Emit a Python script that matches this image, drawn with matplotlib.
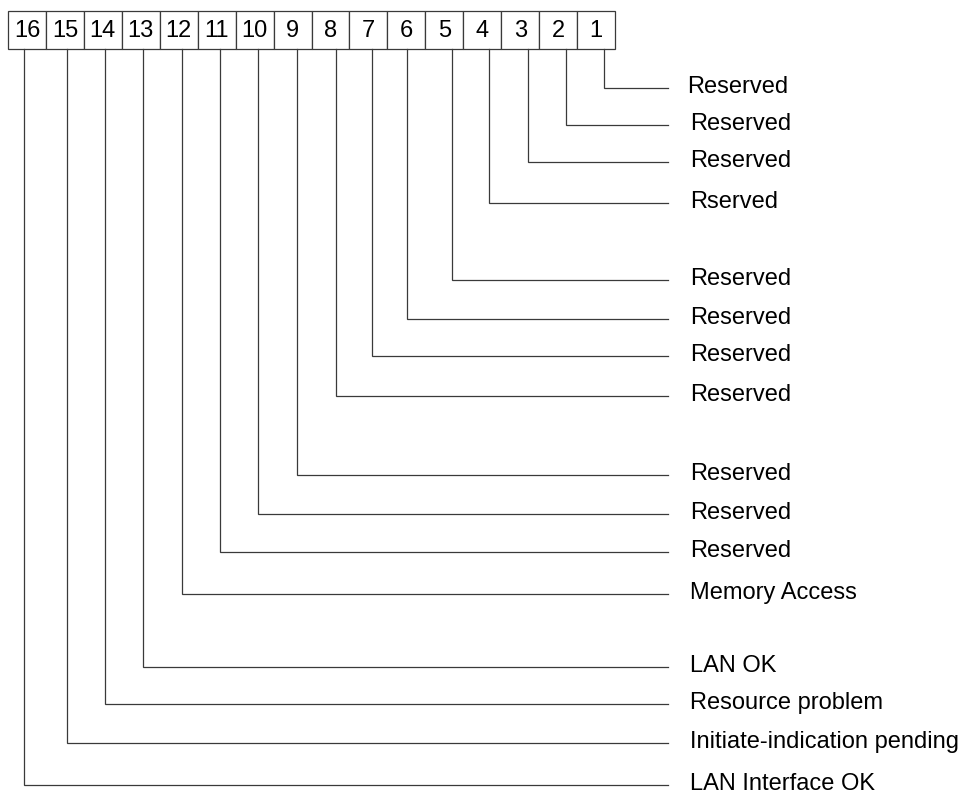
import matplotlib

matplotlib.use("Agg")
import matplotlib.pyplot as plt  # noqa: E402
from matplotlib.patches import Rectangle  # noqa: E402

# bit numbers, left to right in the register box
bits = [16, 15, 14, 13, 12, 11, 10, 9, 8, 7, 6, 5, 4, 3, 2, 1]

# description for each bit (bit 1 first)
labels = [
    "Reserved", "Reserved", "Reserved", "Rserved",
    "Reserved", "Reserved", "Reserved", "Reserved",
    "Reserved", "Reserved", "Reserved", "Memory Access",
    "LAN OK", "Resource problem", "Initiate-indication pending", "LAN Interface OK",
]

# layout (pixels): row y of each leader line, bit 1 first
row_y = [88, 125, 162, 203, 280, 319, 356, 396,
         475, 514, 552, 594, 667, 704, 743, 785]
# x of the stem under each bit, bit 1 first
stem_x = [604, 566, 528, 489, 452, 407, 372, 336,
          297, 258, 220, 182, 143, 105, 67, 24]

W, H = 963, 794
BOX_LEFT, BOX_RIGHT, BOX_TOP, BOX_BOT = 8, 615, 11, 49
LINE_END = 668
LABEL_X = 690
LINE_COLOR = "#3a3a3a"

plt.rcParams["font.family"] = ["Liberation Sans", "DejaVu Sans"]

fig = plt.figure(figsize=(W / 100, H / 100), dpi=100)
ax = fig.add_axes([0, 0, 1, 1])
ax.set_xlim(0, W)
ax.set_ylim(H, 0)
ax.axis("off")

# register boxes
box_w = (BOX_RIGHT - BOX_LEFT) / len(bits)
for i, b in enumerate(bits):
    x0 = BOX_LEFT + i * box_w
    ax.add_patch(Rectangle((x0, BOX_TOP), box_w, BOX_BOT - BOX_TOP,
                           facecolor="white", edgecolor=LINE_COLOR, linewidth=0.9))
    ax.text(x0 + box_w / 2, (BOX_TOP + BOX_BOT) / 2 + 1, str(b),
            ha="center", va="center", fontsize=17, color="black")

# leader lines and labels
for i, (lab, y, x) in enumerate(zip(labels, row_y, stem_x)):
    ax.plot([x, x, LINE_END], [BOX_BOT, y, y], color=LINE_COLOR,
            linewidth=0.9, solid_joinstyle="miter")
    lx = LABEL_X - 3 if i == 0 else LABEL_X
    ax.text(lx, y - 1, lab, ha="left", va="center",
            fontsize=17, color="black")

fig.savefig("out.png", dpi=100)
plt.close(fig)
